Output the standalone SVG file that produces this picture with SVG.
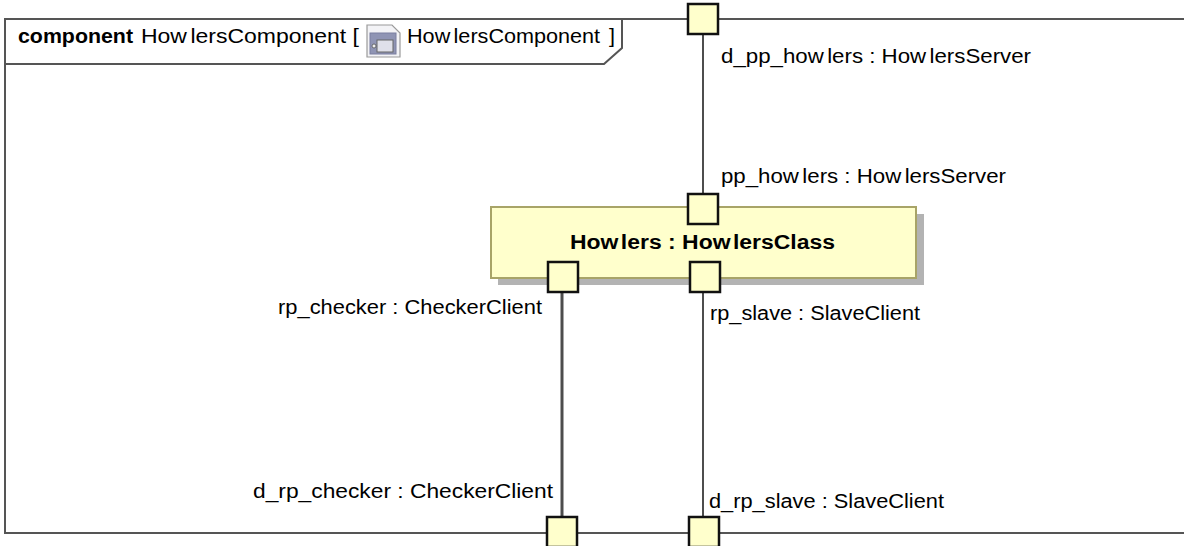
<svg xmlns="http://www.w3.org/2000/svg" width="1184" height="546" viewBox="0 0 1184 546">
<style>
text{font-family:"Liberation Sans",Arial,sans-serif;font-size:19.5px;fill:#000}
.b{font-weight:bold}
.port{fill:#ffffcc;stroke:#111;stroke-width:2.5}
.conn{fill:none;stroke:#4d4d4d;stroke-width:2}
.thick{stroke-width:3}
</style>
<rect width="1184" height="546" fill="#fff"/>
<g id="frame">
<path d="M1184 19H5V533H1184" fill="none" stroke="#555" stroke-width="2"/>
<path d="M5 64H604L622 48V19" fill="none" stroke="#555" stroke-width="2"/>
<text x="18" y="43" class="b" textLength="115" lengthAdjust="spacingAndGlyphs">component</text>
<text x="141" y="43" textLength="218" lengthAdjust="spacingAndGlyphs">How<tspan dx="3">lersComponent [</tspan></text>
<g id="frame-icon">
<path d="M367 25H392L400 33V57H367Z" fill="#f3f3f6" stroke="#9a9a9a" stroke-width="1.2"/>
<rect x="370" y="33" width="26" height="21" fill="#8f94b4" stroke="#7a7f9f"/>
<rect x="377" y="40" width="16" height="12" fill="#dfe0ea" stroke="#666"/>
<circle cx="374" cy="46" r="2" fill="#eee" stroke="#555" stroke-width=".8"/>
</g>
<text x="407" y="43" textLength="208" lengthAdjust="spacingAndGlyphs">How<tspan dx="3">lersComponent</tspan><tspan dx="8">]</tspan></text>
</g>
<g id="connectors">
<path class="conn" d="M703 34V195"/>
<path class="conn" d="M703 293V517"/>
<path class="conn thick" d="M562 293V517"/>
</g>
<g id="howlers">
<rect x="498" y="214" width="426" height="71" fill="#b3b3b3"/>
<rect x="491" y="207" width="425" height="71" fill="#ffffcc" stroke="#a8a468" stroke-width="2"/>
<text x="570" y="249" class="b" textLength="265" lengthAdjust="spacingAndGlyphs">How<tspan dx="2">lers</tspan> : How<tspan dx="2">lersClass</tspan></text>
</g>
<g id="d_pp_howlers">
<rect class="port" x="688" y="4" width="30" height="30"/>
<text x="721" y="63" textLength="310" lengthAdjust="spacingAndGlyphs">d_pp_how<tspan dx="3">lers : How</tspan><tspan dx="3">lersServer</tspan></text>
</g>
<g id="pp_howlers">
<rect class="port" x="688" y="194" width="30" height="30"/>
<text x="721" y="183" textLength="285" lengthAdjust="spacingAndGlyphs">pp_how<tspan dx="3">lers : How</tspan><tspan dx="3">lersServer</tspan></text>
</g>
<g id="rp_checker">
<rect class="port" x="548" y="262" width="30" height="30"/>
<text x="278" y="314" textLength="264" lengthAdjust="spacingAndGlyphs">rp_checker : CheckerClient</text>
</g>
<g id="rp_slave">
<rect class="port" x="690" y="262" width="30" height="30"/>
<text x="710" y="320" textLength="210" lengthAdjust="spacingAndGlyphs">rp_slave : SlaveClient</text>
</g>
<g id="d_rp_checker">
<rect class="port" x="547" y="517" width="30" height="30"/>
<text x="253" y="498" textLength="300" lengthAdjust="spacingAndGlyphs">d_rp_checker : CheckerClient</text>
</g>
<g id="d_rp_slave">
<rect class="port" x="689" y="517" width="30" height="30"/>
<text x="709" y="508" textLength="235" lengthAdjust="spacingAndGlyphs">d_rp_slave : SlaveClient</text>
</g>
</svg>
